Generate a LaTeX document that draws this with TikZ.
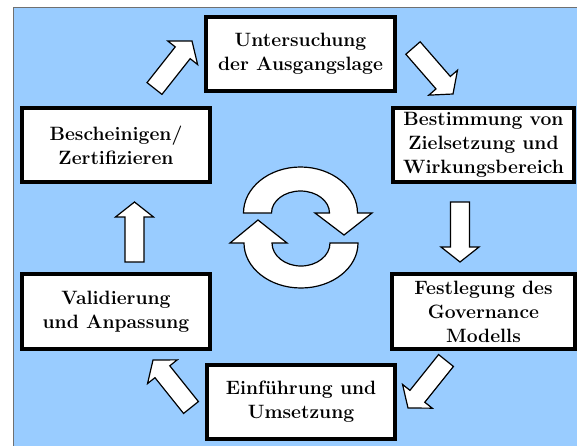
\documentclass[tikz,border=0pt]{standalone}
\usetikzlibrary{calc}
\definecolor{skyfill}{HTML}{99CCFF}
\definecolor{frameline}{HTML}{707070}
\tikzset{
  stagebox/.style={draw=black, line width=3.2pt, fill=white, inner sep=0pt,
    align=center, font=\fontsize{19.3}{24}\selectfont\bfseries},
  blockarr/.style={draw=black, line width=1.2pt, fill=white, line join=miter},
  cyclearr/.style={draw=black, line width=1.2pt, fill=white},
}
% block arrow from tail #1 to tip #2: shaft 19, head 38 wide, head 15 long
\newcommand\blockarrow[2]{%
  \draw[blockarr]
    ($(#1)!9.5pt!90:(#2)$)
    -- ($(#2)!15pt!(#1)!9.5pt!-90:(#1)$)
    -- ($(#2)!15pt!(#1)!19pt!-90:(#1)$)
    -- (#2)
    -- ($(#2)!15pt!(#1)!19pt!90:(#1)$)
    -- ($(#2)!15pt!(#1)!9.5pt!90:(#1)$)
    -- ($(#1)!9.5pt!-90:(#2)$)
    -- cycle;}
\begin{document}
\begin{tikzpicture}[x=1pt, y=1pt, yscale=-1]
  \useasboundingbox (0,0) rectangle (577,445);
  % backdrop
  \fill[skyfill] (13,7) rectangle (580,448);
  \draw[frameline, line width=1pt] (13,448) -- (13,7) -- (580,7);

  % process stages
  \node[stagebox, minimum width=189pt, minimum height=74pt] (unt) at (300.5,54)
    {Untersuchung\\der Ausgangslage};
  \node[stagebox, minimum width=181pt, minimum height=74pt] (bes) at (483.5,145)
    {Bestimmung von\\Zielsetzung und\\Wirkungsbereich};
  \node[stagebox, minimum width=183pt, minimum height=75pt] (fes) at (483.5,311.5)
    {Festlegung des\\Governance\\Modells};
  \node[stagebox, minimum width=188pt, minimum height=74pt] (ein) at (301,402)
    {Einführung und\\Umsetzung};
  \node[stagebox, minimum width=188pt, minimum height=75pt] (val) at (116,311.5)
    {Validierung\\und Anpassung};
  \node[stagebox, minimum width=188pt, minimum height=74pt] (bsc) at (116,145)
    {Bescheinigen/\\Zertifizieren};

  % arrow ends between the stages
  \coordinate (a1s) at (154.5,88.5); \coordinate (a1e) at (192,41);
  \coordinate (a2s) at (413,48);     \coordinate (a2e) at (453,94);
  \coordinate (a3s) at (460,202);    \coordinate (a3e) at (460,262);
  \coordinate (a4s) at (446,360.5);  \coordinate (a4e) at (408,408);
  \coordinate (a5s) at (191,407.5);  \coordinate (a5e) at (153,360);
  \coordinate (a6s) at (134.5,262);  \coordinate (a6e) at (134.5,202);

  \blockarrow{a1s}{a1e}
  \blockarrow{a2s}{a2e}
  \blockarrow{a3s}{a3e}
  \blockarrow{a4s}{a4e}
  \blockarrow{a5s}{a5e}
  \blockarrow{a6s}{a6e}

  % cycle symbol in the middle
  \draw[cyclearr] (243.5,213) arc[start angle=180, end angle=360, x radius=57, y radius=46]
    -- (372,213) -- (344,235) -- (315,213) -- (329.5,213)
    arc[start angle=360, end angle=180, x radius=29, y radius=22] -- cycle;
  \draw[cyclearr] (358,243) arc[start angle=0, end angle=180, x radius=57, y radius=45]
    -- (230,243) -- (258,220) -- (287,243) -- (272,243)
    arc[start angle=180, end angle=0, x radius=29, y radius=23] -- cycle;
\end{tikzpicture}
\end{document}
